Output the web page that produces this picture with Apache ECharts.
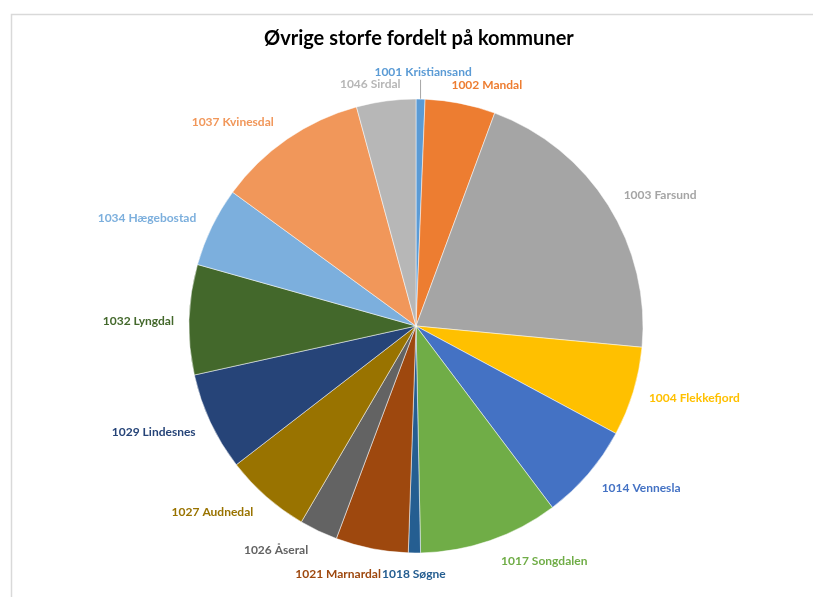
<!DOCTYPE html>
<html>
<head>
<meta charset="utf-8">
<title>Øvrige storfe fordelt på kommuner</title>
<script src="https://cdn.jsdelivr.net/npm/echarts@6/dist/echarts.min.js"></script>
<style>
  html, body { margin: 0; padding: 0; background: #fff; }
  #main { width: 813px; height: 597px; }
</style>
</head>
<body>
<div id="main"></div>
<script>
// kommuner og verdier (lest av bildet)
var kommuner = ['1001 Kristiansand', '1002 Mandal', '1003 Farsund', '1004 Flekkefjord',
  '1014 Vennesla', '1017 Songdalen', '1018 Søgne', '1021 Marnardal', '1026 Åseral',
  '1027 Audnedal', '1029 Lindesnes', '1032 Lyngdal', '1034 Hægebostad',
  '1037 Kvinesdal', '1046 Sirdal'];
var antall = [23, 180, 751, 229, 248, 358, 31, 186, 98, 220, 252, 282, 204, 387, 152];

var farger = ['#5B9BD5', '#ED7D31', '#A5A5A5', '#FFC000', '#4472C4', '#70AD47', '#255E91',
  '#9E480E', '#636363', '#997300', '#264478', '#43682B', '#7CAFDD', '#F1975A', '#B7B7B7'];

// vinkel (grader, med klokka fra kl. 12) der etiketten plasseres, som i Excel "best fit"
var etikettVinkel = [1.6, 16.4, 61.8, 104.5, 125.8, 151.4, 180.5, 197.4, 212, 227.5, 247.9, 271, 291.9, 318, 349.3];
var ekstraAvstand = [5, -7, 0, 0, 0, 0, 0, 0, 0, 0, 0, 0, 0, 0, -7];

var cx = 416, cy = 326, radius = 227, etikettR = 242;

var total = antall.reduce(function (a, b) { return a + b; }, 0);
function midtVinkel(i) {
  var sum = 0;
  for (var k = 0; k < i; k++) sum += antall[k];
  return (sum + antall[i] / 2) / total * 360;
}

var myChart = echarts.init(document.getElementById('main'));

var data = kommuner.map(function (navn, i) {
  return {
    name: navn,
    value: antall[i],
    itemStyle: { color: farger[i] },
    label: { color: farger[i] },
    labelLine: { show: i === 0 }
  };
});

var option = {
  backgroundColor: '#fff',
  animation: false,
  title: {
    text: 'Øvrige storfe fordelt på kommuner',
    left: 259,
    top: 24,
    textStyle: {
      fontFamily: 'Lato',
      fontWeight: 'bold',
      fontSize: 20,
      color: '#000'
    }
  },
  graphic: [{
    type: 'rect',
    left: 9,
    top: 12,
    shape: { width: 900, height: 700 },
    style: { fill: 'none', stroke: '#d9d9d9', lineWidth: 1.5 },
    silent: true
  }],
  series: [{
    type: 'pie',
    center: [cx, cy],
    radius: radius,
    startAngle: 90,
    clockwise: true,
    avoidLabelOverlap: false,
    itemStyle: { borderColor: '#fff', borderWidth: 0.5 },
    label: {
      show: true,
      position: 'outside',
      formatter: '{b}',
      fontFamily: 'Lato',
      fontWeight: 'bold',
      fontSize: 12
    },
    labelLine: {
      length: 10,
      length2: 0,
      lineStyle: { color: '#a6a6a6', width: 1 }
    },
    labelLayout: function (params) {
      var i = params.dataIndex;
      var a = etikettVinkel[i] * Math.PI / 180;
      var w = params.labelRect.width, h = params.labelRect.height;
      var proj = w / 2 * Math.abs(Math.sin(a)) + h / 2 * Math.abs(Math.cos(a));
      var d = etikettR + proj + ekstraAvstand[i];
      var x = cx + d * Math.sin(a);
      var y = cy - d * Math.cos(a);
      var res = { x: x, y: y, align: 'center', verticalAlign: 'middle' };
      if (i === 0) {
        var m = midtVinkel(i) * Math.PI / 180;
        var ex = cx + radius * Math.sin(m), ey = cy - radius * Math.cos(m);
        res.labelLinePoints = [[ex, y + h / 2 + 2], [ex, y + h / 2 + 2], [ex, ey]];
      }
      return res;
    },
    data: data
  }]
};

myChart.setOption(option);
</script>
</body>
</html>
